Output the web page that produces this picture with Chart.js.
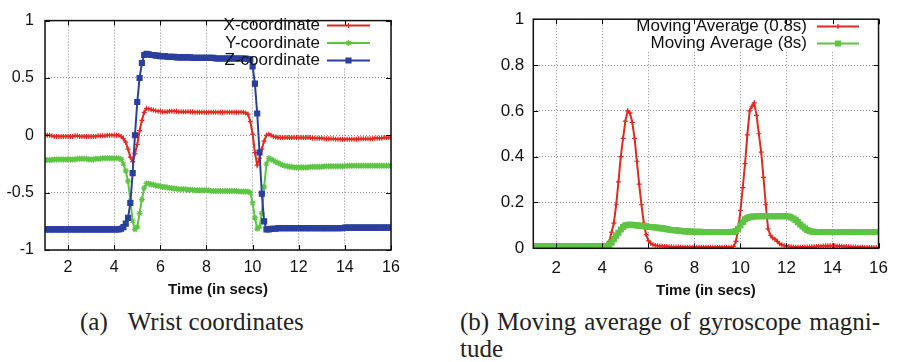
<!DOCTYPE html>
<html>
<head>
<meta charset="utf-8">
<script src="https://cdn.jsdelivr.net/npm/chart.js@4.4.1/dist/chart.umd.min.js"></script>
<style>
  html, body { margin: 0; padding: 0; background: #fff; }
  body { width: 898px; height: 362px; position: relative; overflow: hidden; }
  canvas { position: absolute; top: 0; }
  #wrist-chart { left: 0; }
  #gyro-chart { left: 440px; }
  .caption {
    position: absolute;
    font-family: "Liberation Serif", "Times New Roman", serif;
    font-size: 25px;
    line-height: 27px;
    color: #222;
    white-space: nowrap;
  }
  #cap-a { left: 80px; top: 308px; }
  #cap-a span { margin-right: 20px; }
  #cap-b1 { left: 460px; top: 308px; width: 420px; text-align: justify; text-align-last: justify; }
  #cap-b2 { left: 460px; top: 335px; }
</style>
</head>
<body>
<canvas id="wrist-chart" width="420" height="300"></canvas>
<canvas id="gyro-chart" width="458" height="300"></canvas>
<div class="caption" id="cap-a"><span>(a)</span>Wrist coordinates</div>
<div class="caption" id="cap-b1">(b) Moving average of gyroscope magni-</div>
<div class="caption" id="cap-b2">tude</div>

<script>
(function () {
  'use strict';

  // --- Sampling: one reading every 0.1 s, from t = 1 s to t = 16 s ---
  var startTime = 1;
  var sampleStep = 0.1;

  var timeTicks = [2, 4, 6, 8, 10, 12, 14, 16];
  var wristTicks = [-1, -0.5, 0, 0.5, 1];
  var gyroTicks = [0, 0.2, 0.4, 0.6, 0.8, 1];

  // (a) wrist coordinates, one row per second
  var wristX = [
    0.00, 0.00, 0.00, -0.005, -0.01, -0.01, -0.01, -0.01, -0.01, -0.01,
    -0.01, -0.01, -0.01, -0.005, -0.005, -0.01, -0.01, -0.01, -0.01, -0.01,
    -0.01, -0.01, -0.01, -0.005, -0.005, -0.005, -0.005, 0.00, 0.00, 0.00,
    0.00, 0.00, 0.00, -0.01, -0.03, -0.06, -0.12, -0.19, -0.23, -0.16,
    -0.08, 0.04, 0.13, 0.20, 0.235, 0.23, 0.225, 0.22, 0.215, 0.21,
    0.21, 0.205, 0.205, 0.205, 0.21, 0.21, 0.21, 0.21, 0.205, 0.205,
    0.205, 0.205, 0.205, 0.205, 0.205, 0.20, 0.20, 0.20, 0.20, 0.20,
    0.20, 0.20, 0.20, 0.20, 0.20, 0.20, 0.20, 0.20, 0.20, 0.20,
    0.20, 0.20, 0.20, 0.20, 0.20, 0.20, 0.20, 0.195, 0.185, 0.12,
    0.01, -0.15, -0.26, -0.20, -0.12, -0.05, 0.00, 0.01, 0.00, -0.01,
    -0.015, -0.02, -0.02, -0.02, -0.02, -0.02, -0.02, -0.02, -0.02, -0.02,
    -0.02, -0.02, -0.02, -0.02, -0.02, -0.02, -0.025, -0.025, -0.025, -0.025,
    -0.025, -0.03, -0.03, -0.03, -0.03, -0.03, -0.035, -0.035, -0.035, -0.035,
    -0.035, -0.035, -0.035, -0.035, -0.035, -0.035, -0.03, -0.03, -0.03, -0.03,
    -0.03, -0.03, -0.03, -0.025, -0.025, -0.025, -0.025, -0.02, -0.02, -0.02,
    -0.02
  ];
  var wristY = [
    -0.215, -0.215, -0.215, -0.215, -0.21, -0.21, -0.21, -0.21, -0.21, -0.21,
    -0.21, -0.21, -0.21, -0.21, -0.205, -0.205, -0.205, -0.205, -0.205, -0.21,
    -0.21, -0.21, -0.205, -0.205, -0.205, -0.20, -0.20, -0.20, -0.20, -0.20,
    -0.20, -0.20, -0.20, -0.21, -0.25, -0.31, -0.40, -0.57, -0.745, -0.82,
    -0.80, -0.68, -0.56, -0.46, -0.42, -0.42, -0.43, -0.43, -0.44, -0.44,
    -0.445, -0.45, -0.45, -0.455, -0.46, -0.46, -0.465, -0.465, -0.47, -0.47,
    -0.47, -0.47, -0.475, -0.475, -0.475, -0.48, -0.48, -0.48, -0.48, -0.48,
    -0.48, -0.48, -0.485, -0.485, -0.485, -0.485, -0.485, -0.485, -0.485, -0.485,
    -0.485, -0.485, -0.485, -0.485, -0.49, -0.49, -0.49, -0.49, -0.49, -0.50,
    -0.59, -0.72, -0.815, -0.80, -0.68, -0.45, -0.25, -0.20, -0.21, -0.22,
    -0.23, -0.24, -0.25, -0.26, -0.265, -0.27, -0.275, -0.275, -0.28, -0.28,
    -0.28, -0.28, -0.28, -0.28, -0.28, -0.275, -0.275, -0.275, -0.275, -0.275,
    -0.275, -0.27, -0.27, -0.27, -0.27, -0.27, -0.27, -0.27, -0.27, -0.27,
    -0.27, -0.265, -0.265, -0.265, -0.265, -0.265, -0.265, -0.265, -0.265, -0.265,
    -0.265, -0.265, -0.265, -0.265, -0.265, -0.265, -0.265, -0.265, -0.265, -0.265,
    -0.265
  ];
  var wristZ = [
    -0.82, -0.82, -0.82, -0.82, -0.82, -0.82, -0.82, -0.82, -0.82, -0.82,
    -0.82, -0.82, -0.82, -0.82, -0.82, -0.82, -0.82, -0.82, -0.82, -0.82,
    -0.82, -0.82, -0.82, -0.82, -0.82, -0.82, -0.82, -0.82, -0.82, -0.82,
    -0.82, -0.82, -0.82, -0.815, -0.80, -0.77, -0.72, -0.59, -0.33, 0.00,
    0.29, 0.50, 0.63, 0.70, 0.71, 0.705, 0.70, 0.70, 0.695, 0.695,
    0.69, 0.69, 0.69, 0.685, 0.685, 0.685, 0.685, 0.68, 0.68, 0.68,
    0.68, 0.68, 0.68, 0.68, 0.675, 0.675, 0.675, 0.675, 0.675, 0.675,
    0.675, 0.675, 0.675, 0.675, 0.67, 0.67, 0.67, 0.67, 0.67, 0.67,
    0.67, 0.67, 0.67, 0.67, 0.67, 0.67, 0.67, 0.67, 0.665, 0.66,
    0.60, 0.45, 0.19, -0.15, -0.51, -0.75, -0.82, -0.82, -0.815, -0.815,
    -0.815, -0.81, -0.81, -0.81, -0.81, -0.81, -0.81, -0.81, -0.81, -0.81,
    -0.81, -0.81, -0.81, -0.81, -0.81, -0.81, -0.81, -0.81, -0.81, -0.81,
    -0.81, -0.81, -0.81, -0.81, -0.81, -0.81, -0.81, -0.81, -0.81, -0.81,
    -0.805, -0.805, -0.805, -0.805, -0.805, -0.805, -0.805, -0.805, -0.805, -0.805,
    -0.805, -0.805, -0.805, -0.805, -0.805, -0.805, -0.805, -0.805, -0.805, -0.805,
    -0.805
  ];

  // (b) moving averages of the gyroscope magnitude
  var gyroShort = [
    0.005, 0.005, 0.005, 0.005, 0.005, 0.005, 0.005, 0.005, 0.005, 0.005,
    0.005, 0.005, 0.005, 0.005, 0.005, 0.005, 0.005, 0.005, 0.005, 0.005,
    0.005, 0.005, 0.005, 0.005, 0.005, 0.005, 0.005, 0.005, 0.005, 0.005,
    0.005, 0.005, 0.01, 0.03, 0.07, 0.11, 0.19, 0.29, 0.40, 0.48,
    0.555, 0.60, 0.59, 0.55, 0.48, 0.38, 0.28, 0.19, 0.11, 0.06,
    0.033, 0.022, 0.016, 0.013, 0.011, 0.01, 0.009, 0.008, 0.008, 0.007,
    0.007, 0.006, 0.006, 0.006, 0.005, 0.005, 0.005, 0.005, 0.005, 0.005,
    0.005, 0.005, 0.005, 0.005, 0.005, 0.005, 0.005, 0.005, 0.005, 0.005,
    0.005, 0.005, 0.005, 0.005, 0.005, 0.005, 0.005, 0.008, 0.03, 0.08,
    0.165, 0.265, 0.37, 0.495, 0.60, 0.62, 0.635, 0.58, 0.50, 0.42,
    0.31, 0.19, 0.085, 0.057, 0.045, 0.04, 0.03, 0.02, 0.015, 0.012,
    0.01, 0.008, 0.007, 0.006, 0.005, 0.005, 0.005, 0.005, 0.006, 0.006,
    0.006, 0.007, 0.007, 0.008, 0.009, 0.009, 0.01, 0.011, 0.011, 0.011,
    0.011, 0.011, 0.01, 0.01, 0.009, 0.008, 0.008, 0.007, 0.007, 0.006,
    0.006, 0.005, 0.005, 0.005, 0.004, 0.004, 0.004, 0.003, 0.003, 0.003,
    0.002
  ];
  var gyroLong = [
    0.01, 0.01, 0.01, 0.01, 0.01, 0.01, 0.01, 0.01, 0.01, 0.01,
    0.01, 0.01, 0.01, 0.01, 0.01, 0.01, 0.01, 0.01, 0.01, 0.01,
    0.01, 0.01, 0.01, 0.01, 0.01, 0.01, 0.01, 0.01, 0.01, 0.01,
    0.01, 0.01, 0.01, 0.015, 0.025, 0.04, 0.055, 0.068, 0.082, 0.093,
    0.10, 0.103, 0.103, 0.102, 0.101, 0.10, 0.099, 0.098, 0.097, 0.096,
    0.094, 0.093, 0.092, 0.091, 0.09, 0.088, 0.087, 0.086, 0.084, 0.082,
    0.08, 0.079, 0.078, 0.077, 0.076, 0.075, 0.074, 0.074, 0.073, 0.073,
    0.072, 0.072, 0.072, 0.072, 0.071, 0.071, 0.071, 0.071, 0.071, 0.071,
    0.071, 0.071, 0.071, 0.071, 0.071, 0.071, 0.071, 0.072, 0.075, 0.085,
    0.10, 0.115, 0.127, 0.133, 0.136, 0.138, 0.139, 0.14, 0.14, 0.14,
    0.14, 0.14, 0.14, 0.14, 0.14, 0.14, 0.14, 0.14, 0.14, 0.14,
    0.14, 0.139, 0.135, 0.13, 0.123, 0.114, 0.104, 0.095, 0.087, 0.08,
    0.076, 0.073, 0.072, 0.071, 0.071, 0.071, 0.071, 0.071, 0.071, 0.071,
    0.071, 0.071, 0.071, 0.071, 0.071, 0.071, 0.071, 0.071, 0.071, 0.071,
    0.071, 0.071, 0.071, 0.071, 0.071, 0.071, 0.071, 0.071, 0.071, 0.071,
    0.071
  ];

  var RED = '#e0291f';
  var GREEN = '#5ec544';
  var BLUE = '#2b3f9e';
  var GRID = '#8c8c8c';
  var SANS = '"Liberation Sans", Arial, sans-serif';

  function toPoints(values) {
    return values.map(function (v, i) {
      return { x: startTime + i * sampleStep, y: v };
    });
  }

  function series(label, values, color, style, radius, order) {
    return {
      label: label,
      data: toPoints(values),
      borderColor: color,
      backgroundColor: color,
      borderWidth: 2,
      pointStyle: style,
      pointRadius: radius,
      pointBorderWidth: 1.2,
      pointBorderColor: color,
      pointBackgroundColor: color,
      tension: 0,
      order: order
    };
  }

  // --- gnuplot look: inward mirrored ticks, closed border, opaque key ---
  var gnuplotPlugin = {
    id: 'gnuplotFrame',
    beforeDatasetsDraw: function (chart, args, opts) {
      var b = opts.box;
      chart.ctx.save();
      chart.ctx.fillStyle = '#fff';
      chart.ctx.fillRect(b[0], b[1], b[2], b[3]);
      chart.ctx.restore();
    },
    afterDatasetsDraw: function (chart, args, opts) {
      var ctx = chart.ctx;
      var a = chart.chartArea;
      var sx = chart.scales.x, sy = chart.scales.y;
      ctx.save();

      ctx.strokeStyle = '#000';
      ctx.lineWidth = 1;
      ctx.setLineDash([]);
      ctx.beginPath();
      sx.ticks.forEach(function (t) {
        var px = Math.round(sx.getPixelForValue(t.value)) + 0.5;
        ctx.moveTo(px, a.bottom); ctx.lineTo(px, a.bottom - 5);
        ctx.moveTo(px, a.top); ctx.lineTo(px, a.top + 5);
      });
      sy.ticks.forEach(function (t) {
        var py = Math.round(sy.getPixelForValue(t.value)) + 0.5;
        ctx.moveTo(a.left, py); ctx.lineTo(a.left + 5, py);
        ctx.moveTo(a.right, py); ctx.lineTo(a.right - 5, py);
      });
      ctx.stroke();

      ctx.lineWidth = 1.5;
      ctx.strokeStyle = '#111';
      ctx.strokeRect(a.left, a.top, a.right - a.left, a.bottom - a.top);

      // key: right-aligned label, then a sample of line + marker
      ctx.font = opts.fontSize + 'px ' + SANS;
      ctx.textAlign = 'right';
      ctx.textBaseline = 'middle';
      chart.data.datasets.forEach(function (ds, i) {
        var y = opts.rows[i];
        ctx.fillStyle = '#111';
        ctx.fillText(ds.label, opts.textRight, y);
        ctx.strokeStyle = ds.borderColor;
        ctx.fillStyle = ds.borderColor;
        ctx.lineWidth = ds.borderWidth;
        ctx.beginPath();
        ctx.moveTo(opts.sample[0], y);
        ctx.lineTo(opts.sample[1], y);
        ctx.stroke();
        if (Chart.helpers && Chart.helpers.drawPoint) {
          ctx.lineWidth = ds.pointBorderWidth;
          Chart.helpers.drawPoint(ctx, {
            pointStyle: ds.pointStyle,
            radius: ds.pointRadius,
            borderWidth: ds.pointBorderWidth,
            rotation: 0
          }, (opts.sample[0] + opts.sample[1]) / 2, y);
        }
      });
      ctx.restore();
    }
  };

  function axisX(height, tickSize, tickPad, titlePad) {
    return {
      type: 'linear',
      min: 1,
      max: 16,
      afterBuildTicks: function (s) {
        s.ticks = timeTicks.map(function (v) { return { value: v }; });
      },
      afterFit: function (s) { s.height = height; },
      grid: { color: GRID, lineWidth: 1, drawTicks: false },
      border: { display: false, dash: [1, 2] },
      ticks: {
        color: '#111',
        padding: tickPad,
        maxRotation: 0,
        font: { family: SANS, size: tickSize },
        callback: function (v) { return String(v); }
      },
      title: {
        display: true,
        text: 'Time (in secs)',
        color: '#111',
        font: { family: SANS, size: 15, weight: 'bold' },
        padding: { top: 0, bottom: titlePad }
      }
    };
  }

  function axisY(min, max, tickValues, width, tickSize, tickPad) {
    return {
      min: min,
      max: max,
      afterBuildTicks: function (s) {
        s.ticks = tickValues.map(function (v) { return { value: v }; });
      },
      afterFit: function (s) { s.width = width; },
      grid: { color: GRID, lineWidth: 1, drawTicks: false },
      border: { display: false, dash: [1, 2] },
      ticks: {
        color: '#111',
        padding: tickPad,
        font: { family: SANS, size: tickSize },
        callback: function (v) { return String(v); }
      }
    };
  }

  // =========================================================================
  // (a) WRIST COORDINATES
  // =========================================================================

  new Chart(document.getElementById('wrist-chart'), {
    type: 'line',
    data: {
      datasets: [
        series('X-coordinate', wristX, RED, 'cross', 2.5, 3),
        series('Y-coordinate', wristY, GREEN, 'star', 3, 2),
        series('Z-coordinate', wristZ, BLUE, 'rect', 3.5, 1)
      ]
    },
    options: {
      responsive: false,
      animation: false,
      events: [],
      layout: { padding: { left: 0, top: 15, right: 29, bottom: 0 } },
      plugins: {
        legend: { display: false },
        tooltip: { enabled: false },
        gnuplotFrame: {
          box: [218, 15, 158, 53],
          fontSize: 17,
          textRight: 320,
          sample: [327, 370],
          rows: [25.5, 43, 60.5]
        }
      },
      scales: {
        x: axisX(50, 16, 8, 1),
        y: axisY(-1, 1, wristTicks, 45, 16, 11)
      }
    },
    plugins: [gnuplotPlugin]
  });

  // =========================================================================
  // (b) MOVING AVERAGE OF GYROSCOPE MAGNITUDE
  // =========================================================================

  new Chart(document.getElementById('gyro-chart'), {
    type: 'line',
    data: {
      datasets: [
        series('Moving Average (0.8s)', gyroShort, RED, 'cross', 2.5, 2),
        series('Moving Average (8s)', gyroLong, GREEN, 'rect', 3.5, 1)
      ]
    },
    options: {
      responsive: false,
      animation: false,
      events: [],
      layout: { padding: { left: 0, top: 15, right: 18.7, bottom: 0 } },
      plugins: {
        legend: { display: false },
        tooltip: { enabled: false },
        gnuplotFrame: {
          box: [192, 15, 234, 37],
          fontSize: 17,
          textRight: 367,
          sample: [377, 419],
          rows: [26.5, 43.5]
        }
      },
      scales: {
        x: axisX(51.7, 17, 10, 0),
        y: axisY(0, 1, gyroTicks, 93.3, 17, 9)
      }
    },
    plugins: [gnuplotPlugin]
  });

})();
</script>
</body>
</html>
